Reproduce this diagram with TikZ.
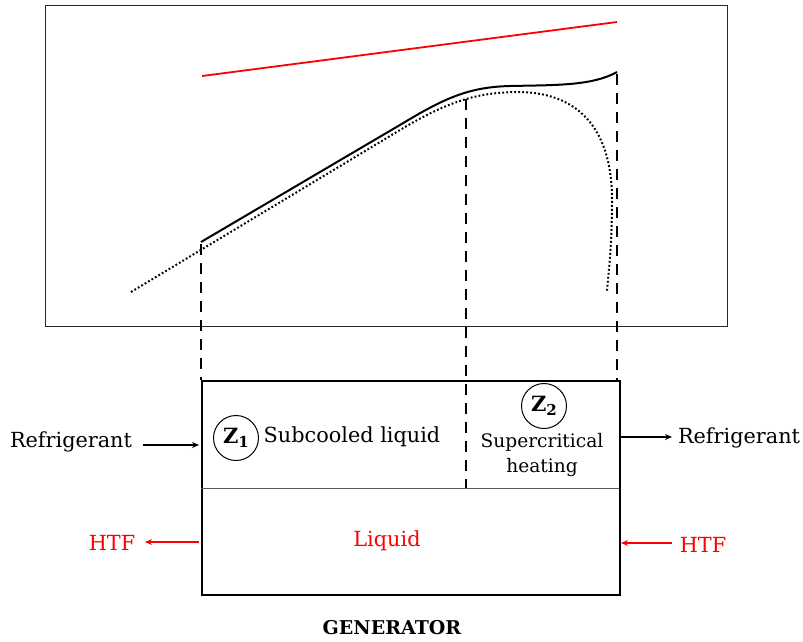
\documentclass[tikz,border=0pt]{standalone}
\usepackage{fontspec}
\setmainfont{DejaVu Serif}
\usetikzlibrary{arrows.meta}
\definecolor{htfred}{RGB}{255,0,0}
\tikzset{
  lbl/.style={inner sep=0pt, font=\fontsize{20.8}{24}\selectfont},
  rlbl/.style={lbl, text=htfred},
  zcirc/.style={draw, circle, line width=1pt, minimum size=45pt, inner sep=0pt, font=\fontsize{21}{24}\selectfont\bfseries},
  vdash/.style={line width=2.6pt, dash pattern=on 10.5pt off 8.5pt},
  dotc/.style={line width=2pt, dash pattern=on 1.8pt off 2.2pt},
  arr/.style={line width=1.3pt, -{Stealth[length=7pt,width=6pt]}},
  rarr/.style={arr, draw=htfred},
}
\begin{document}
\begin{tikzpicture}[x=1pt,y=-1pt]
\useasboundingbox (0,0) rectangle (803,641);
% top diagram frame
\node[draw, line width=1.3pt, black!85, minimum width=682pt, minimum height=321pt, anchor=north west, inner sep=0pt] (frame) at (45,5) {};
% red line
\coordinate (r1) at (202,76);
\coordinate (r2) at (617,22);
\draw[htfred, line width=1.8pt] (r1) -- (r2);
% curves
\coordinate (s0) at (201,242);
\coordinate (s1) at (405,122);
\coordinate (s2) at (510,86);
\coordinate (s3) at (617,72);
\draw[line width=2pt] (s0) -- (s1) .. controls (448,96) and (472,87) .. (s2) .. controls (555,85) and (592,86) .. (s3);
\coordinate (d0) at (131,292);
\coordinate (d1) at (400,130);
\coordinate (d2) at (520,92);
\coordinate (d3) at (612,200);
\coordinate (d4) at (607,292);
\draw[dotc] (d0) -- (d1) .. controls (450,100) and (480,92) .. (d2) .. controls (575,93) and (612,125) .. (d3) .. controls (612,250) and (608,275) .. (d4);
% generator box
\node[draw, line width=2pt, minimum width=418pt, minimum height=214pt, anchor=north west, inner sep=0pt] (gen) at (201,380) {};
\coordinate (divL) at (201,488);
\coordinate (divR) at (619,488);
\draw[line width=1pt, black!65] (divL) -- (divR);
% dashed verticals
\coordinate (v1t) at (201,244);
\coordinate (v1b) at (201,380);
\coordinate (v2t) at (466,99);
\coordinate (v2b) at (466,488);
\coordinate (v3t) at (617,74);
\coordinate (v3b) at (617,380);
\draw[vdash] (v1t) -- (v1b);
\draw[vdash] (v2t) -- (v2b);
\draw[vdash] (v3t) -- (v3b);
% zone labels
\node[zcirc] (z1) at (236,438) {Z\raisebox{-0.4ex}{\fontsize{15}{17}\selectfont 1}};
\node[lbl] (sub) at (352,437) {Subcooled liquid};
\node[zcirc] (z2) at (544,406) {Z\raisebox{-0.4ex}{\fontsize{15}{17}\selectfont 2}};
\node[lbl, align=center, font=\fontsize{18.6}{25}\selectfont] (sup) at (542,455) {Supercritical\\heating};
\node[rlbl] (liq) at (387,541) {Liquid};
% refrigerant in / out
\node[lbl] (refL) at (71,442) {Refrigerant};
\coordinate (aL1) at (143,445);
\coordinate (aL2) at (199,445);
\draw[arr] (aL1) -- (aL2);
\coordinate (aR1) at (619,437);
\coordinate (aR2) at (672,437);
\draw[arr] (aR1) -- (aR2);
\node[lbl] (refR) at (739,438) {Refrigerant};
% HTF
\node[rlbl] (htfL) at (112,543) {HTF};
\coordinate (hL1) at (199,542);
\coordinate (hL2) at (145,542);
\draw[rarr] (hL1) -- (hL2);
\node[rlbl] (htfR) at (703,545) {HTF};
\coordinate (hR1) at (672,543);
\coordinate (hR2) at (621,543);
\draw[rarr] (hR1) -- (hR2);
% title
\node[lbl, font=\fontsize{19}{22}\selectfont\bfseries] (title) at (392,628) {GENERATOR};
\end{tikzpicture}
\end{document}
